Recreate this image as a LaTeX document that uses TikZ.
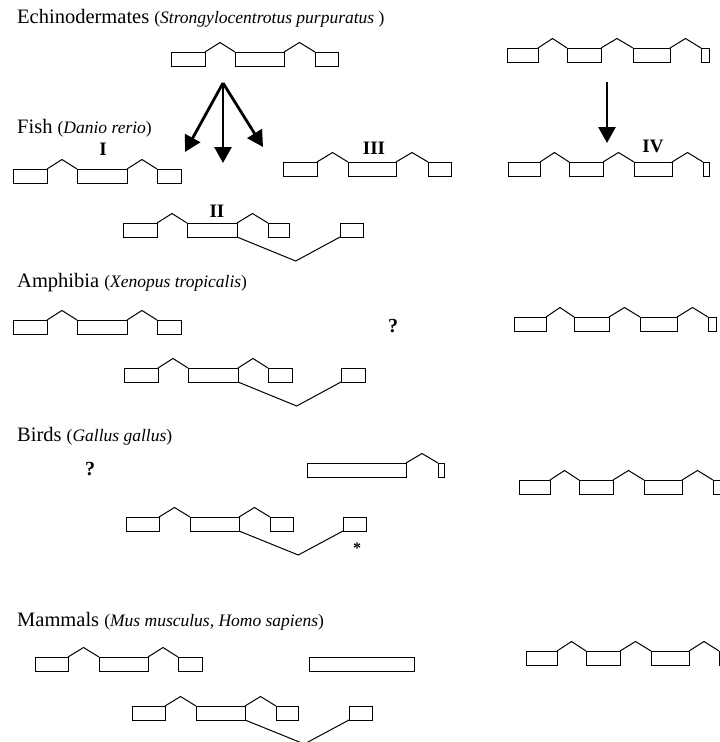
\documentclass[tikz,border=0pt]{standalone}
\usepackage{fontspec}
\setmainfont{Liberation Serif}
\usetikzlibrary{calc,arrows.meta}

% one exon: name, left x, right x, top y
\newcommand\exn[4]{\node[exon, minimum width={(#3-#2)*1pt}] (#1) at (#2,#4) {};}
% spliced intron joining the tops of two exons
\newcommand\intr[2]{\draw[intron] (#1.north east) -- ([yshift=9.5pt]$(#1.north east)!.5!(#2.north west)$) -- (#2.north west);}
% alternative (skipping) intron drawn below the exons
\newcommand\lintr[2]{\draw[intron] (#1.south east) -- ([yshift=-24pt]$(#1.south east)!.57!(#2.south west)$) -- (#2.south west);}
% species name in parentheses
\newcommand\spname[1]{{\fontsize{17.5}{17.5}\selectfont(\textit{#1})}}

\tikzset{
  exon/.style={draw, line width=1pt, inner sep=0pt, outer sep=0pt,
    minimum height=14pt, anchor=north west},
  intron/.style={line width=1pt, line join=miter},
  taxon/.style={anchor=base west, inner sep=0pt,
    font=\fontsize{20.5}{20.5}\selectfont},
  numeral/.style={anchor=base, inner sep=0pt,
    font=\fontsize{19}{19}\selectfont\bfseries},
  query/.style={anchor=base, inner sep=0pt,
    font=\fontsize{20}{20}\selectfont\bfseries},
  split/.style={line width=2.8pt, -{Triangle[length=16pt,width=17pt]}},
}

\begin{document}
\begin{tikzpicture}[x=1pt, y=-1pt]
\useasboundingbox (0,0) rectangle (720,742);
\clip (0,0) rectangle (720,742);

% ---- taxon headings
\node[taxon] (tEchi) at (17,23.5) {Echinodermates \spname{Strongylocentrotus purpuratus }};
\node[taxon] (tFish) at (17,133) {Fish \spname{Danio rerio}};
\node[taxon] (tAmph) at (17,287) {Amphibia \spname{Xenopus tropicalis}};
\node[taxon] (tBird) at (17,441) {Birds \spname{Gallus gallus}};
\node[taxon] (tMamm) at (17,626) {Mammals \spname{Mus musculus, Homo sapiens}};

% ---- echinoderm genes
\exn{ea1}{171}{205}{52} \exn{ea2}{235}{284}{52} \exn{ea3}{315}{338}{52}
\intr{ea1}{ea2} \intr{ea2}{ea3}
\exn{eb1}{507}{538}{48} \exn{eb2}{567}{601}{48} \exn{eb3}{633}{670}{48} \exn{eb4}{701}{709}{48}
\intr{eb1}{eb2} \intr{eb2}{eb3} \intr{eb3}{eb4}

% ---- duplication arrows
\coordinate (src) at (223,83);
\coordinate (toI) at (185,152);
\coordinate (toII) at (223,163);
\coordinate (toIII) at (263,147);
\draw[split] (src) -- (toI);
\draw[split] (src) -- (toII);
\draw[split] (src) -- (toIII);
\coordinate (srcIV) at (607,82);
\coordinate (toIV) at (607,143);
\draw[split] (srcIV) -- (toIV);

% ---- fish genes
\node[numeral] (nI) at (103,155) {I};
\exn{fa1}{13}{47}{169} \exn{fa2}{77}{127}{169} \exn{fa3}{157}{181}{169}
\intr{fa1}{fa2} \intr{fa2}{fa3}

\node[numeral] (nII) at (217,217) {II};
\exn{fb1}{123}{157}{223} \exn{fb2}{187}{237}{223} \exn{fb3}{268}{289}{223} \exn{fb4}{340}{363}{223}
\intr{fb1}{fb2} \intr{fb2}{fb3} \lintr{fb2}{fb4}

\node[numeral] (nIII) at (374,154) {III};
\exn{fc1}{283}{317}{162} \exn{fc2}{348}{396}{162} \exn{fc3}{428}{451}{162}
\intr{fc1}{fc2} \intr{fc2}{fc3}

\node[numeral] (nIV) at (653,152) {IV};
\exn{fd1}{508}{540}{162} \exn{fd2}{569}{603}{162} \exn{fd3}{634}{672}{162} \exn{fd4}{703}{709}{162}
\intr{fd1}{fd2} \intr{fd2}{fd3} \intr{fd3}{fd4}

% ---- amphibian genes
\exn{aa1}{13}{47}{320} \exn{aa2}{77}{127}{320} \exn{aa3}{157}{181}{320}
\intr{aa1}{aa2} \intr{aa2}{aa3}
\exn{ab1}{124}{158}{368} \exn{ab2}{188}{238}{368} \exn{ab3}{268}{292}{368} \exn{ab4}{341}{365}{368}
\intr{ab1}{ab2} \intr{ab2}{ab3} \lintr{ab2}{ab4}
\node[query] (qAmph) at (393,332) {?};
\exn{ad1}{514}{546}{317} \exn{ad2}{574}{609}{317} \exn{ad3}{640}{677}{317} \exn{ad4}{708}{716}{317}
\intr{ad1}{ad2} \intr{ad2}{ad3} \intr{ad3}{ad4}

% ---- bird genes
\node[query] (qBird) at (90,475) {?};
\exn{bc1}{307}{406}{463} \exn{bc2}{438}{444}{463}
\intr{bc1}{bc2}
\exn{bb1}{126}{159}{517} \exn{bb2}{190}{239}{517} \exn{bb3}{270}{293}{517} \exn{bb4}{343}{366}{517}
\intr{bb1}{bb2} \intr{bb2}{bb3} \lintr{bb2}{bb4}
\node[numeral, font=\fontsize{16}{16}\selectfont\bfseries] (star) at (357,553) {*};
\exn{bd1}{519}{550}{480} \exn{bd2}{579}{613}{480} \exn{bd3}{644}{682}{480} \exn{bd4}{713}{721}{480}
\intr{bd1}{bd2} \intr{bd2}{bd3} \intr{bd3}{bd4}

% ---- mammal genes
\exn{ma1}{35}{68}{657} \exn{ma2}{99}{148}{657} \exn{ma3}{178}{202}{657}
\intr{ma1}{ma2} \intr{ma2}{ma3}
\exn{mc1}{309}{414}{657}
\exn{mb1}{132}{165}{706} \exn{mb2}{196}{245}{706} \exn{mb3}{276}{298}{706} \exn{mb4}{349}{372}{706}
\intr{mb1}{mb2} \intr{mb2}{mb3} \lintr{mb2}{mb4}
\exn{md1}{526}{557}{651} \exn{md2}{586}{620}{651} \exn{md3}{651}{689}{651} \exn{md4}{719}{727}{651}
\intr{md1}{md2} \intr{md2}{md3} \intr{md3}{md4}
\end{tikzpicture}
\end{document}
